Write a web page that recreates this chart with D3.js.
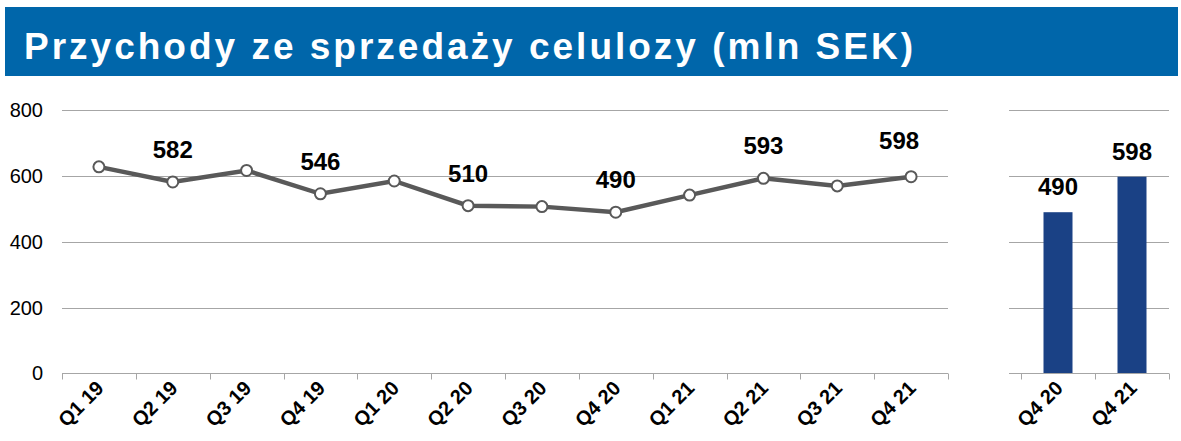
<!DOCTYPE html>
<html><head><meta charset="utf-8">
<script src="https://cdn.jsdelivr.net/npm/d3@7"></script>
<style>body{margin:0;background:#fff}svg{display:block}</style>
</head><body>
<svg id="c" width="1181" height="441"></svg>
<script>
const title = "Przychody ze sprzedaży celulozy (mln SEK)";
const categories = ["Q1 19","Q2 19","Q3 19","Q4 19","Q1 20","Q2 20","Q3 20","Q4 20","Q1 21","Q2 21","Q3 21","Q4 21"];
const revenue = [628, 582, 617, 546, 585, 510, 507, 490, 542, 593, 570, 598];
const labeled = ["Q2 19","Q4 19","Q2 20","Q4 20","Q2 21","Q4 21"];
const barCategories = ["Q4 20","Q4 21"];
const barValues = [490, 598];
const yTicks = [0, 200, 400, 600, 800];

const svg = d3.select("#c");
const font = "'Liberation Sans', Arial, sans-serif";

// title band
svg.append("rect").attr("x",5).attr("y",7).attr("width",1173).attr("height",69).attr("fill","#0066AA");
svg.append("text").attr("x",24).attr("y",59).attr("fill","#fff")
  .attr("font-family",font).attr("font-weight","bold").attr("font-size",37)
  .attr("letter-spacing",3.0).text(title);

const y = d3.scaleLinear().domain([0,800]).range([373.3,110.3]);

// left panel
const xL = d3.scaleBand().domain(categories).range([62,948]);
const gL = svg.append("g");
gL.selectAll("line.grid").data(yTicks.filter(d=>d>0)).join("line")
  .attr("x1",62).attr("x2",948).attr("y1",d=>Math.round(y(d))+0.5).attr("y2",d=>Math.round(y(d))+0.5)
  .attr("stroke","#a6a6a6").attr("stroke-width",1);
svg.append("g").selectAll("text").data(yTicks).join("text")
  .attr("x",43).attr("y",d=>y(d)+7).attr("text-anchor","end")
  .attr("font-family",font).attr("font-size",20).attr("fill","#000").text(d=>d);

function drawXAxis(scale, x0, x1) {
  const g = svg.append("g").attr("transform",`translate(0,${Math.round(y(0))+0.5})`);
  g.append("line").attr("x1",x0).attr("x2",x1).attr("stroke","#a6a6a6");
  const ticks = scale.domain().map(d=>scale(d)).concat([scale.range()[1]]);
  g.selectAll("line.t").data(ticks).join("line").attr("class","t")
    .attr("x1",d=>Math.round(d)+0.5).attr("x2",d=>Math.round(d)+0.5).attr("y1",0).attr("y2",6)
    .attr("stroke","#a6a6a6");
  g.selectAll("text").data(scale.domain()).join("text")
    .attr("transform",d=>`translate(${scale(d)+scale.bandwidth()/2+6},16) rotate(-45)`)
    .attr("text-anchor","end").attr("font-family",font).attr("font-weight","bold")
    .attr("font-size",20).attr("fill","#000").text(d=>d);
}
drawXAxis(xL, 62, 948);

const cx = d => xL(d)+xL.bandwidth()/2;
const data = categories.map((c,i)=>({c, v:revenue[i]}));
gL.append("path").datum(data)
  .attr("d", d3.line().x(d=>cx(d.c)).y(d=>y(d.v)))
  .attr("fill","none").attr("stroke","#595959").attr("stroke-width",4.5);
gL.selectAll("circle").data(data).join("circle")
  .attr("cx",d=>cx(d.c)).attr("cy",d=>y(d.v)).attr("r",5.5)
  .attr("fill","#fff").attr("stroke","#595959").attr("stroke-width",2);
const lastCat = categories[categories.length-1];
gL.selectAll("text.lab").data(data.filter(d=>labeled.includes(d.c))).join("text")
  .attr("x",d=>cx(d.c) - (d.c===lastCat?12:0))
  .attr("y",d=>y(d.v) - (d.c===lastCat?28:24)).attr("text-anchor","middle")
  .attr("font-family",font).attr("font-weight","bold").attr("font-size",24).attr("fill","#000")
  .text(d=>d.v);

// right panel
const xR = d3.scaleBand().domain(barCategories).range([1021,1169]);
const gR = svg.append("g");
gR.selectAll("line.grid").data(yTicks.filter(d=>d>0)).join("line")
  .attr("x1",1009).attr("x2",1169).attr("y1",d=>Math.round(y(d))+0.5).attr("y2",d=>Math.round(y(d))+0.5)
  .attr("stroke","#a6a6a6").attr("stroke-width",1);
const bars = barCategories.map((c,i)=>({c, v:barValues[i]}));
gR.selectAll("rect").data(bars).join("rect")
  .attr("x",d=>xR(d.c)+xR.bandwidth()/2-14.5).attr("width",29)
  .attr("y",d=>y(d.v)).attr("height",d=>y(0)-y(d.v)).attr("fill","#1A4185");
gR.selectAll("text").data(bars).join("text")
  .attr("x",d=>xR(d.c)+xR.bandwidth()/2).attr("y",d=>y(d.v)-17).attr("text-anchor","middle")
  .attr("font-family",font).attr("font-weight","bold").attr("font-size",24).attr("fill","#000")
  .text(d=>d.v);
svg.append("line").attr("x1",1009).attr("x2",1021).attr("y1",Math.round(y(0))+0.5).attr("y2",Math.round(y(0))+0.5).attr("stroke","#a6a6a6");
drawXAxis(xR, 1021, 1169);
</script>
</body></html>
